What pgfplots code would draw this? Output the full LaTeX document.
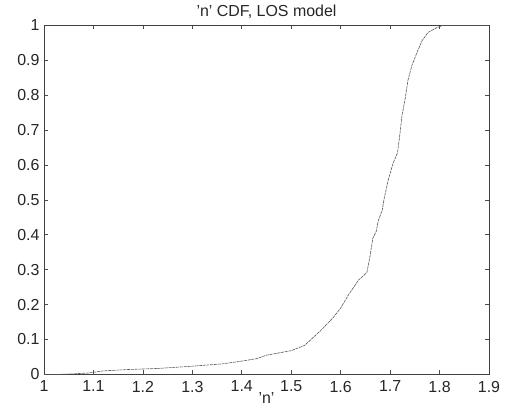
\documentclass[border=0pt]{standalone}
\usepackage{fontspec}
\setmainfont{Liberation Sans}
\usepackage{pgfplots}
\pgfplotsset{compat=1.18}
\begin{document}
\fontsize{16}{19}\selectfont
\begin{tikzpicture}
\begin{axis}[
  at={(0,0)}, anchor=south west,
  scale only axis,
  width=445bp, height=349bp,
  xmin=1, xmax=1.9, ymin=0, ymax=1,
  xtick={1,1.1,1.2,1.3,1.4,1.5,1.6,1.7,1.8,1.9},
  xticklabels={1,1.1,1.2,1.3,1.4,1.5,1.6,1.7,1.8,1.9},
  ytick={0,0.1,0.2,0.3,0.4,0.5,0.6,0.7,0.8,0.9,1},
  yticklabels={0,0.1,0.2,0.3,0.4,0.5,0.6,0.7,0.8,0.9,1},
  /pgf/number format/assume math mode=true,
  tick align=inside, major tick length=4bp,
  tick style={black!70, line width=0.6pt},
  axis line style={black!75, line width=0.8pt},
  xticklabel style={yshift=-1bp},
  yticklabel style={xshift=1bp},
  title={'n' CDF, LOS model},
  title style={yshift=-5bp},
  xlabel={'n'},
  xlabel style={yshift=10bp},
  tick label style={font=\fontsize{16}{19}\selectfont, text=black!85},
  label style={font=\fontsize{16}{19}\selectfont, text=black!85},
  title style={font=\fontsize{16}{19}\selectfont, text=black!85},
]
\addplot[black!65, line width=0.6pt, dash pattern=on 3pt off 0.8pt] coordinates {
(1.00,0) (1.03,0) (1.05,0.001) (1.09,0.004) (1.10,0.006) (1.12,0.010)
(1.17,0.014) (1.23,0.017) (1.295,0.023) (1.36,0.030) (1.395,0.037)
(1.43,0.045) (1.45,0.055) (1.50,0.068) (1.527,0.083) (1.56,0.126)
(1.585,0.163) (1.60,0.19) (1.615,0.226) (1.636,0.27) (1.653,0.292)
(1.659,0.335) (1.665,0.39) (1.672,0.41) (1.676,0.44) (1.684,0.47)
(1.688,0.504) (1.696,0.556) (1.706,0.605) (1.715,0.635) (1.720,0.691)
(1.724,0.742) (1.730,0.785) (1.736,0.842) (1.744,0.885) (1.756,0.928)
(1.765,0.957) (1.777,0.980) (1.795,0.994) (1.807,1.0) (1.9,1.0)
};
\end{axis}
\path (-44bp,-38bp) rectangle ++(510bp,412bp);
\end{tikzpicture}
\end{document}
